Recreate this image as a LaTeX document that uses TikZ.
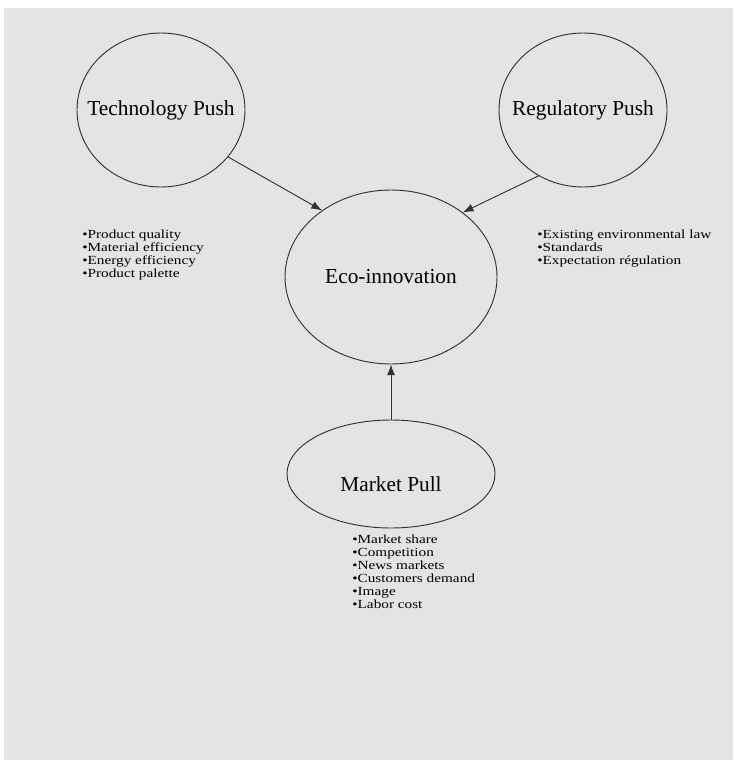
\documentclass[tikz,border=0pt]{standalone}
\usepackage{fontspec}
\setmainfont{Liberation Serif}
\usetikzlibrary{shapes.geometric,arrows.meta}
\definecolor{paper}{HTML}{E4E4E4}
\definecolor{ink}{HTML}{333333}

\begin{document}
\begin{tikzpicture}[x=0.75pt,y=-0.75pt,
  bubble/.style={draw=ink,ellipse,line width=0.7pt,inner sep=0pt},
  ttl/.style={inner sep=0pt,font=\fontsize{16}{18}\selectfont},
  items/.style={anchor=north west,align=left,inner sep=0pt,
    font=\fontsize{9.3}{9.75}\selectfont,xscale=1.23,transform shape},
  link/.style={draw=ink,line width=0.7pt,-{Latex[length=8pt,width=6pt]}}]

\useasboundingbox (0,0) rectangle (733,760);
\fill[white] (0,0) rectangle (733,760);
\fill[paper] (4,8) rectangle (733,760);

% the four forces
\node[bubble,minimum width=126pt,minimum height=115.5pt] (tech) at (161,110) {};
\node[bubble,minimum width=126pt,minimum height=115.5pt] (reg) at (583,110) {};
\node[bubble,minimum width=159pt,minimum height=130.5pt] (eco) at (391,277) {};
\node[bubble,minimum width=156pt,minimum height=81pt] (mp) at (391,474) {};

\node[ttl] (techname) at (tech) {Technology Push};
\node[ttl] (regname) at (reg) {Regulatory Push};
\node[ttl] (econame) at (eco) {Eco-innovation};
\node[ttl] (mpname) at (391,484) {Market Pull};

% lists
\node[items] (techlist) at (82,230) {•Product quality\\•Material efficiency\\•Energy efficiency\\•Product palette};
\node[items] (reglist) at (537,230) {•Existing environmental law\\•Standards\\•Expectation régulation};
\node[items] (mplist) at (352,535) {•Market share\\•Competition\\•News markets\\•Customers demand\\•Image\\•Labor cost};

% arrows
\draw[link] (tech.-35) -- (eco.136);
\draw[link] (reg.236) -- (eco.42);
\draw[link] (mp.north) -- (eco.south);

\end{tikzpicture}
\end{document}
